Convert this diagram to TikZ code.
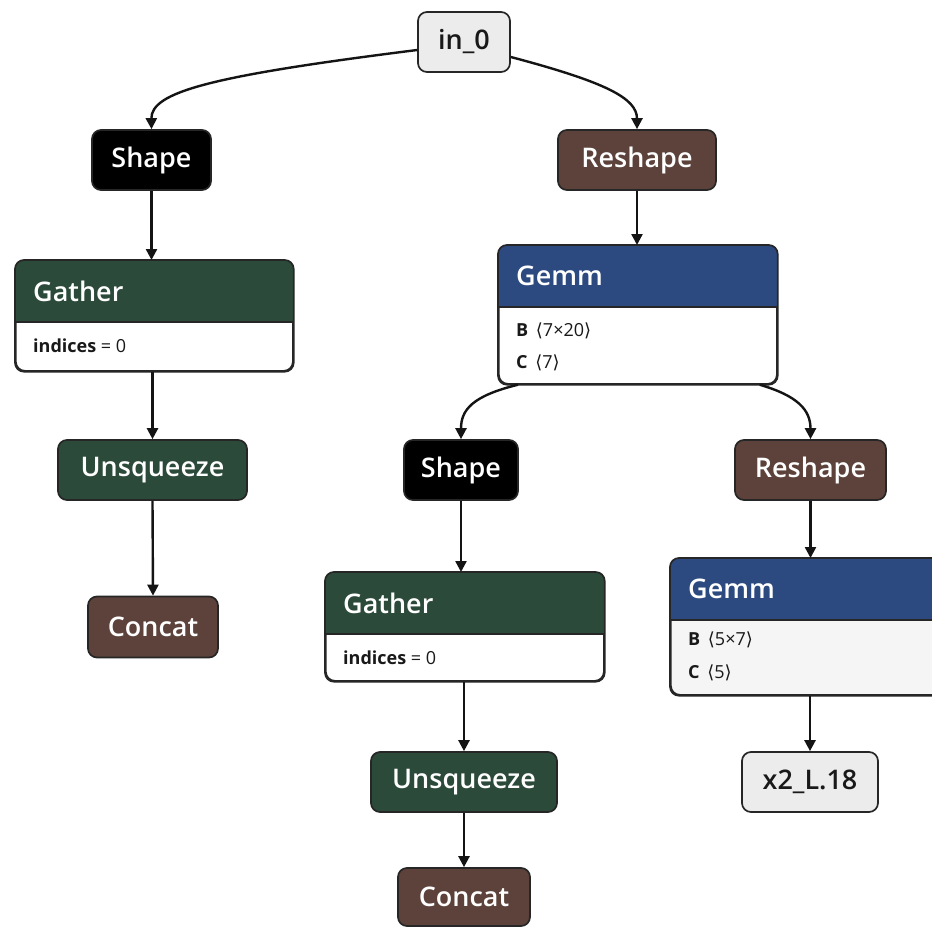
\documentclass[tikz,border=0pt]{standalone}
\usepackage{fontspec}
\setmainfont{Open Sans}
% title face: a semibold cut when one is available, else the regular one
\IfFontExistsTF{Open Sans Semibold}{\newfontfamily\semib{Open Sans Semibold}}{%
 \IfFontExistsTF{OpenSans-SemiBold}{\newfontfamily\semib{OpenSans-SemiBold}}{%
  \IfFontExistsTF{Noto Sans Medium}{\newfontfamily\semib{Noto Sans Medium}}{%
   \IfFontExistsTF{NotoSans-Medium}{\newfontfamily\semib{NotoSans-Medium}}{%
    \IfFontExistsTF{Fira Sans Medium}{\newfontfamily\semib{Fira Sans Medium}}{%
     \newfontfamily\semib{Open Sans}}}}}}
\newfontfamily\brk{DejaVu Sans}
\usetikzlibrary{arrows.meta}

\definecolor{layerblue}{RGB}{44,74,128}
\definecolor{xformgreen}{RGB}{44,74,58}
\definecolor{shapebrown}{RGB}{92,66,58}
\definecolor{inputgray}{RGB}{236,236,236}
\definecolor{edgeblack}{RGB}{20,20,20}

\newcommand\titlefont{\semib\fontsize{27}{30}\selectfont}
\newcommand\attrfont{\fontsize{18}{21}\selectfont}
\newcommand\ang[1]{{\brk\fontsize{18}{21}\selectfont⟨}#1{\brk\fontsize{18}{21}\selectfont⟩}}

\tikzset{
  box/.style={draw=black!85, line width=1.7pt, rounded corners=9pt, inner sep=0pt},
  op/.style={box, minimum height=60pt, text=white, font=\titlefont},
  io/.style={box, fill=inputgray, minimum height=60pt, text=black!90, font=\titlefont},
  arr/.style={draw=edgeblack, line width=2.4pt, -{Triangle[length=11pt,width=11pt]}},
  attr/.style={anchor=west, inner sep=0pt, font=\attrfont, text=black!90},
}

% box with a coloured title band on top and a plain body below it
% #1 name, #2 x, #3 y (top left), #4 width, #5 height, #6 band height,
% #7 band colour, #8 body colour, #9 title
\newcommand\headerbox[9]{%
  \node[box, fill=#8, anchor=north west, minimum width=#4pt, minimum height=#5pt] (#1) at (#2,#3) {};
  \begin{scope}
    \clip[rounded corners=9pt] (#1.north west) rectangle (#1.south east);
    \fill[#7] (#1.north west) rectangle ([yshift=-#6pt]#1.north east);
  \end{scope}
  \draw[line width=1.4pt, black!85] ([yshift=-#6pt]#1.north west) -- ([yshift=-#6pt]#1.north east);
  \draw[box] (#1.north west) rectangle (#1.south east);
  \node[anchor=west, inner sep=0pt, text=white, font=\titlefont] (#1-title)
    at ([xshift=18pt,yshift=-0.5*#6pt]#1.north west) {#9};
}

\begin{document}
\begin{tikzpicture}[x=1pt, y=-1pt]
\clip (0,0) rectangle (932,927);
\fill[white] (0,0) rectangle (932,927);

% plain operator nodes
\node[io, minimum width=92pt] (in0) at (464,42) {in\_0};
\node[op, fill=black, minimum width=119pt] (shapeL) at (151.5,160) {Shape};
\node[op, fill=shapebrown, minimum width=158pt] (reshapeT) at (637,160) {Reshape};
\node[op, fill=xformgreen, minimum width=189pt] (unsqL) at (152.5,470) {Unsqueeze};
\node[op, fill=shapebrown, minimum width=130pt, minimum height=61pt] (concatL) at (153,627) {Concat};
\node[op, fill=black, minimum width=114pt] (shapeM) at (461,470) {Shape};
\node[op, fill=shapebrown, minimum width=151pt] (reshapeR) at (810.5,470) {Reshape};
\node[op, fill=xformgreen, minimum width=186pt] (unsqM) at (464,782) {Unsqueeze};
\node[io, minimum width=136pt] (x2) at (810,782) {x2\_L.18};
\node[op, fill=shapebrown, minimum width=132pt, minimum height=58pt] (concatM) at (464,897) {Concat};

% nodes with attributes
\headerbox{gatherL}{15}{260}{277}{110}{62}{xformgreen}{white}{Gather}
\node[attr] at (33,346) {\textbf{indices} = 0};

\headerbox{gemmT}{498}{245}{278}{138}{62}{layerblue}{white}{Gemm}
\node[attr] at (516,331) {\textbf{B}\, \ang{7×20}};
\node[attr] at (516,363) {\textbf{C}\, \ang{7}};

\headerbox{gatherM}{325}{572}{278}{108}{62}{xformgreen}{white}{Gather}
\node[attr] at (343,658) {\textbf{indices} = 0};

\headerbox{gemmR}{670}{558}{290}{136}{62}{layerblue}{black!4}{Gemm}
\node[attr] at (688,640) {\textbf{B}\, \ang{5×7}};
\node[attr] at (688,673) {\textbf{C}\, \ang{5}};

% connectors
\draw[arr] ([yshift=-8pt]in0.west) .. controls (210,76) and (151,92) .. (shapeL.north);
\draw[arr] ([yshift=-15pt]in0.east) .. controls (605,82) and (637,98) .. (reshapeT.north);
\draw[arr] (shapeL.south) -- (shapeL.south |- gatherL.north);
\draw[arr] (unsqL.north |- gatherL.south) -- (unsqL.north);
\draw[arr] (unsqL.south) -- (concatL.north);
\draw[arr] (reshapeT.south) -- (reshapeT.south |- gemmT.north);
\draw[arr] ([xshift=20pt]gemmT.south west) .. controls (472,396) and (461,410) .. (shapeM.north);
\draw[arr] ([xshift=-18pt]gemmT.south east) .. controls (798,396) and (810.5,410) .. (reshapeR.north);
\draw[arr] (shapeM.south) -- (shapeM.south |- gatherM.north);
\draw[arr] (unsqM.north |- gatherM.south) -- (unsqM.north);
\draw[arr] (unsqM.south) -- (concatM.north);
\draw[arr] (reshapeR.south) -- (reshapeR.south |- gemmR.north);
\draw[arr] (x2.north |- gemmR.south) -- (x2.north);
\end{tikzpicture}
\end{document}
